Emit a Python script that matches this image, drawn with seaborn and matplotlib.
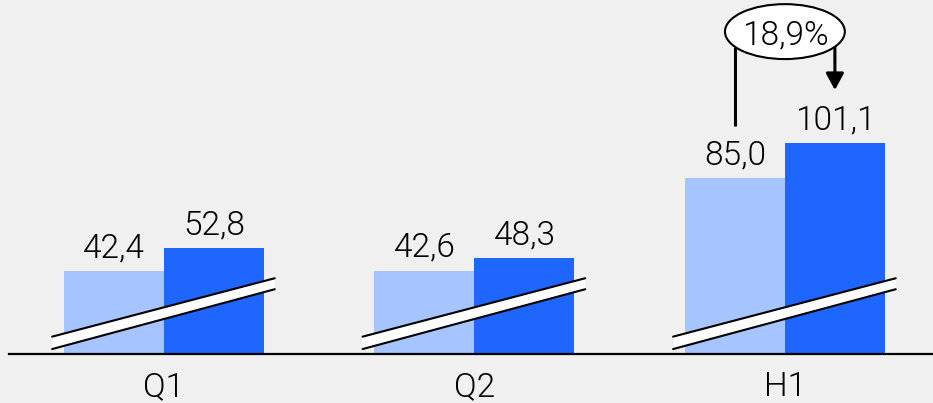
import matplotlib
matplotlib.use("Agg")
import matplotlib.pyplot as plt
import matplotlib.transforms as mtransforms
from matplotlib.patches import Ellipse, Polygon
import pandas as pd
import seaborn as sns

# Revenue by period, previous vs current year
periods = ["Q1", "Q2", "H1"]
series = ["prev", "curr"]
prev_values = [42.4, 42.6, 85.0]
curr_values = [52.8, 48.3, 101.1]
growth_label = "18,9%"

colors = {"prev": "#a6c4ff", "curr": "#1f66ff"}
bg = "#f0f0f0"

df = pd.DataFrame({
    "period": periods * 2,
    "series": ["prev"] * len(periods) + ["curr"] * len(periods),
    "value": prev_values + curr_values,
})

sns.set_theme(style="white")
plt.rcParams["font.family"] = ["Roboto", "DejaVu Sans"]
plt.rcParams["font.weight"] = 300

fig = plt.figure(figsize=(9.33, 4.03), dpi=100, facecolor=bg)
ax = fig.add_axes([9 / 933, 49 / 403, 924 / 933, 354 / 403])
ax.set_facecolor(bg)

sns.barplot(data=df, x="period", y="value", hue="series", order=periods,
            hue_order=series, palette=colors, width=0.644, gap=0,
            linewidth=0, saturation=1, legend=False, ax=ax)

# truncated value axis (the break marks show it does not start at zero)
ax.set_ylim(4.3, 166.7)
ax.set_xlim(-0.499, 2.477)

for side in ["left", "right", "top"]:
    ax.spines[side].set_visible(False)
ax.spines["bottom"].set_color("black")
ax.spines["bottom"].set_linewidth(1.6)
ax.set_yticks([])
ax.set_xlabel("")
ax.set_ylabel("")
fs = 24
ax.tick_params(axis="x", length=0, pad=12, labelsize=fs, labelcolor="black")
for lbl in ax.get_xticklabels():
    lbl.set_fontweight(300)

half = 0.644 / 4

# value labels above the bars
for i, (p, c) in enumerate(zip(prev_values, curr_values)):
    for x, v in ((i - half, p), (i + half, c)):
        ax.annotate(f"{v:.1f}".replace(".", ","), (x, v), xytext=(0, 10),
                    textcoords="offset points", ha="center", va="baseline",
                    fontsize=fs, fontweight=300, color="black")

# axis-break bands across each group
blend = mtransforms.blended_transform_factory(ax.transData, ax.transAxes)
for i in range(len(periods)):
    x0, x1 = i - 0.36, i + 0.357
    band = Polygon([(x0, 0.014), (x0, 0.049), (x1, 0.214), (x1, 0.183)],
                   closed=True, facecolor="white", edgecolor="none",
                   transform=blend, zorder=3, clip_on=False)
    ax.add_patch(band)
    ax.plot([x0, x1], [0.049, 0.214], color="black", lw=1.5,
            transform=blend, zorder=4, clip_on=False)
    ax.plot([x0, x1], [0.014, 0.183], color="black", lw=1.5,
            transform=blend, zorder=4, clip_on=False)

# growth callout for H1
gi = periods.index("H1")
ell_y = 152.2
ax.add_patch(Ellipse((gi, ell_y), 0.386, 25.2, facecolor="white",
                     edgecolor="black", lw=1.5, zorder=5, clip_on=False))
ax.text(gi, ell_y, growth_label, ha="center", va="center_baseline",
        fontsize=fs, fontweight=300, color="black", zorder=6)
ax.plot([gi - half, gi - half], [145.1, 108.9], color="black", lw=2.2,
        solid_capstyle="butt", zorder=4)
ax.annotate("", xy=(gi + half, 125.4), xytext=(gi + half, 145.1),
            arrowprops=dict(arrowstyle="-|>,head_length=10,head_width=5.4",
                            mutation_scale=1, lw=2.2, color="black",
                            shrinkA=0, shrinkB=0), zorder=4)

fig.savefig("out.png", dpi=100, facecolor=bg)
